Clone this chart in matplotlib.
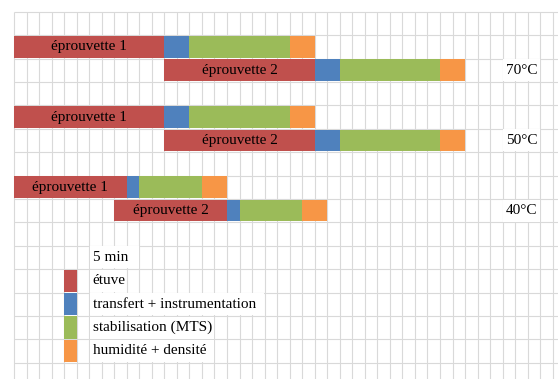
import math
import numpy as np
import matplotlib
matplotlib.use("Agg")
import matplotlib.pyplot as plt
from matplotlib.patches import Rectangle

# ---------------- data (minutes) ----------------
MIN_PER_CELL = 5
scale_label = "5 min"
temperatures = ["70°C", "50°C", "40°C"]
specimens = ["éprouvette 1", "éprouvette 2"]
start_1 = [0, 0, 0]
start_2 = [60, 60, 40]
phases = ["étuve", "transfert + instrumentation", "stabilisation (MTS)", "humidité + densité"]
etuve = [60, 60, 45]
transfert = [10, 10, 5]
stabilisation = [40, 40, 25]
humidite = [10, 10, 10]
colors = ["#C0504D", "#4F81BD", "#9BBB59", "#F79646"]

# ---------------- layout ----------------
W, H = 558, 379
X0, CW = 14.0, 12.53      # grid origin / column width (px)
Y0, RH = 11.7, 23.4       # grid origin / row height (px)
FONT = "Liberation Serif"
FS = 11
GRID = "#D9D9D9"

fig = plt.figure(figsize=(W / 100, H / 100), dpi=100)
ax = fig.add_axes([0, 0, 1, 1])
xmin = -X0 / CW * MIN_PER_CELL
xmax = (W - X0) / CW * MIN_PER_CELL
ymax = (H - Y0) / RH
ax.set_xlim(xmin, xmax)
ax.set_ylim(ymax, -Y0 / RH)
ax.axis("off")

ncols = int((W - X0) / CW)
nrows = int(ymax)
ax.vlines(np.arange(0, ncols + 1) * MIN_PER_CELL, 0, ymax, color=GRID, lw=0.8, zorder=1)
ax.hlines(np.arange(0, nrows + 1), 0, xmax, color=GRID, lw=0.8, zorder=1)

phase_vals = [etuve, transfert, stabilisation, humidite]
bar_h = 0.93
for i, temp in enumerate(temperatures):
    for j, starts in enumerate([start_1, start_2]):
        row = 1 + 3 * i + j
        left = starts[i]
        for k, vals in enumerate(phase_vals):
            ax.barh(row + 0.5, vals[i], left=left, height=bar_h, color=colors[k],
                    edgecolor="none", zorder=2)
            if k == 0:
                ax.text(left + vals[i] / 2, row + 0.5, specimens[j], ha="center",
                        va="center", family=FONT, fontsize=FS, zorder=4)
            left += vals[i]
    # temperature label in merged cell
    trow = 2 + 3 * i
    c0, c1 = 39, 42
    ax.add_patch(Rectangle((c0 * MIN_PER_CELL + 0.25, trow + 0.03),
                           (c1 - c0) * MIN_PER_CELL - 0.5, 0.94,
                           facecolor="white", edgecolor="none", zorder=3))
    ax.text((c0 + c1) / 2 * MIN_PER_CELL, trow + 0.5, temp, ha="center", va="center",
            family=FONT, fontsize=FS, zorder=4)

# legend
leg_row = 10
texts = []
t = ax.text(6.28 * MIN_PER_CELL, leg_row + 0.5, scale_label, ha="left", va="center",
            family=FONT, fontsize=FS, zorder=4)
texts.append((t, leg_row))
for k, name in enumerate(phases):
    r = leg_row + 1 + k
    ax.barh(r + 0.5, MIN_PER_CELL, left=4 * MIN_PER_CELL, height=0.95,
            color=colors[k], edgecolor="none", zorder=2)
    t = ax.text(6.28 * MIN_PER_CELL, r + 0.5, name, ha="left", va="center",
                family=FONT, fontsize=FS, zorder=4)
    texts.append((t, r))

fig.canvas.draw()
renderer = fig.canvas.get_renderer()
inv = ax.transData.inverted()
for t, r in texts:
    bb = t.get_window_extent(renderer)
    xr = inv.transform((bb.x1, bb.y0))[0]
    cend = math.ceil(xr / MIN_PER_CELL)
    ax.add_patch(Rectangle((6 * MIN_PER_CELL + 0.25, r + 0.03),
                           (cend - 6) * MIN_PER_CELL - 0.5, 0.94,
                           facecolor="white", edgecolor="none", zorder=3))

fig.savefig("out.png", dpi=100)
